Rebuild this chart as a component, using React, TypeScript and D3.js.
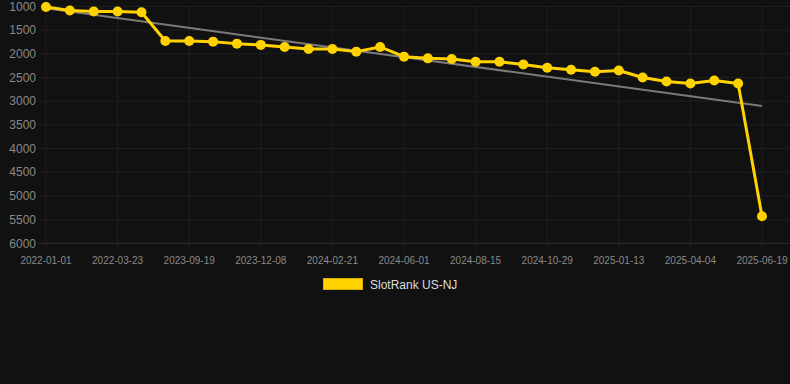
import React from 'react';
import * as d3 from 'd3';

// x tick labels, one every third point
const tickLabels = [
  '2022-01-01', '2022-03-23', '2023-09-19', '2023-12-08', '2024-02-21', '2024-06-01',
  '2024-08-15', '2024-10-29', '2025-01-13', '2025-04-04', '2025-06-19',
];
const labelStep = 3;

// SlotRank US-NJ
const rankValues = [
  1010, 1085, 1106, 1106, 1121, 1727, 1727, 1742, 1784, 1811,
  1854, 1896, 1896, 1953, 1854, 2059, 2095, 2108, 2165, 2165,
  2225, 2292, 2335, 2377, 2350, 2498, 2583, 2625, 2561, 2625,
  5428,
];

const yTicks = [1000, 1500, 2000, 2500, 3000, 3500, 4000, 4500, 5000, 5500, 6000];

const W = 790;
const H = 384;
const font = '"Liberation Sans", Arial, sans-serif';

export default function App() {
  const x = d3.scaleLinear().domain([0, rankValues.length - 1]).range([46, 762]);
  const y = d3.scaleLinear().domain([1000, 6000]).range([6.5, 243.3]);

  const line = d3
    .line<number>()
    .x((_, i) => x(i))
    .y((d) => y(d));

  // least squares trend line over the index
  const n = rankValues.length;
  const mx = (n - 1) / 2;
  const my = d3.mean(rankValues) as number;
  let num = 0;
  let den = 0;
  rankValues.forEach((v, i) => {
    num += (i - mx) * (v - my);
    den += (i - mx) * (i - mx);
  });
  const slope = num / den;
  const trendAt = (i: number) => my + slope * (i - mx);

  const tickIdx = tickLabels.map((_, k) => k * labelStep);

  return (
    <svg width={W} height={H} style={{ display: 'block', background: '#111111' }}>
      <style>{`body{margin:0;background:#111111}`}</style>
      <rect width={W} height={H} fill="#111111" />

      {/* grid */}
      {yTicks.map((t) => (
        <line
          key={'gy' + t}
          x1={38}
          x2={W}
          y1={y(t)}
          y2={y(t)}
          stroke={t === 6000 ? '#2e2e2e' : '#1f1f1f'}
          strokeWidth={1}
        />
      ))}
      {tickIdx.map((i) => (
        <line
          key={'gx' + i}
          x1={x(i)}
          x2={x(i)}
          y1={y(1000)}
          y2={y(6000) + 8}
          stroke="#1f1f1f"
          strokeWidth={1}
        />
      ))}

      {/* y labels */}
      {yTicks.map((t) => (
        <text
          key={'ly' + t}
          x={36}
          y={y(t)}
          dy="0.35em"
          textAnchor="end"
          fontFamily={font}
          fontSize={12}
          fill="#8a8a8a"
        >
          {t}
        </text>
      ))}

      {/* x labels */}
      {tickIdx.map((i, k) => (
        <text
          key={'lx' + i}
          x={x(i)}
          y={260}
          dy="0.35em"
          textAnchor="middle"
          fontFamily={font}
          fontSize={10}
          fill="#8a8a8a"
        >
          {tickLabels[k]}
        </text>
      ))}

      {/* trend */}
      <line
        x1={x(0)}
        x2={x(n - 1)}
        y1={y(trendAt(0))}
        y2={y(trendAt(n - 1))}
        stroke="#7a7a7a"
        strokeWidth={2}
      />

      {/* series */}
      <path d={line(rankValues) || ''} fill="none" stroke="#FFD200" strokeWidth={3} strokeLinejoin="round" />
      {rankValues.map((v, i) => (
        <circle key={'p' + i} cx={x(i)} cy={y(v)} r={5} fill="#FFD200" />
      ))}

      {/* legend */}
      <rect x={323.5} y={278.5} width={39} height={11} fill="#FFD200" stroke="#d9b000" strokeWidth={1} />
      <text x={370} y={285} dy="0.35em" fontFamily={font} fontSize={12} fill="#dddddd">
        SlotRank US-NJ
      </text>
    </svg>
  );
}
